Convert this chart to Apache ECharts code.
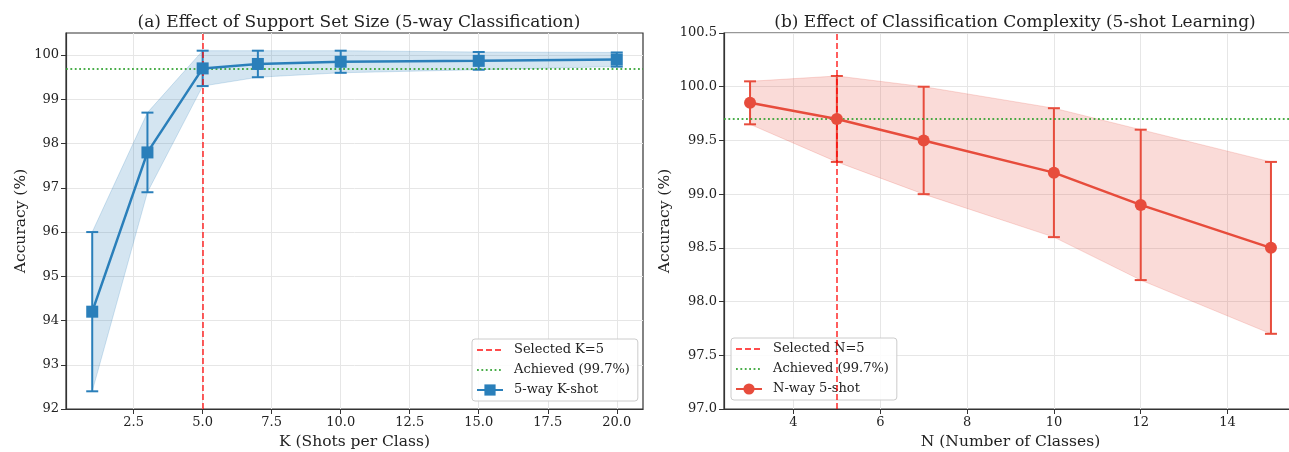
<!DOCTYPE html>
<html><head><meta charset="utf-8">
<script src="https://cdn.jsdelivr.net/npm/echarts@6/dist/echarts.min.js"></script>
<style>html,body{margin:0;padding:0;background:#fff}#c{width:1289px;height:452px}</style>
</head><body><div id="c"></div>
<script>
// ---- data ----
const kShots = [1, 3, 5, 7, 10, 15, 20];
const kAcc   = [94.2, 97.8, 99.7, 99.8, 99.85, 99.87, 99.9];
const kErr   = [1.8, 0.9, 0.4, 0.3, 0.25, 0.2, 0.16];
const nClasses = [3, 5, 7, 10, 12, 15];
const nAcc   = [99.85, 99.7, 99.5, 99.2, 98.9, 98.5];
const nErr   = [0.2, 0.4, 0.5, 0.6, 0.7, 0.8];
const achievedAcc = 99.7;
const selectedK = 5;
const selectedN = 5;
const kTickLabels = [2.5, 5, 7.5, 10, 12.5, 15, 17.5, 20];
const nTickLabels = [4, 6, 8, 10, 12, 14];
const kAccTicks = [92, 93, 94, 95, 96, 97, 98, 99, 100];
const nAccTicks = [97, 97.5, 98, 98.5, 99, 99.5, 100, 100.5];

const BLUE = '#2a7fba', RED = '#e74c3c';
const FONT = 'DejaVu Serif';
const TXT = '#222';

const kBand = kShots.map((k, i) => [k, kAcc[i] - kErr[i], kAcc[i] + kErr[i]]);
const nBand = nClasses.map((n, i) => [n, nAcc[i] - nErr[i], nAcc[i] + nErr[i]]);

function bandSeries(idx, band, fill, stroke) {
  return {
    type: 'custom', xAxisIndex: idx, yAxisIndex: idx, silent: true, z: 1,
    data: band, encode: { x: 0, y: [1, 2] },
    renderItem: function (params, api) {
      if (params.dataIndex !== 0) return null;
      const pts = [];
      band.forEach(r => pts.push(api.coord([r[0], r[2]])));
      for (let i = band.length - 1; i >= 0; i--) pts.push(api.coord([band[i][0], band[i][1]]));
      return { type: 'polygon', shape: { points: pts }, style: { fill: fill, stroke: stroke, lineWidth: 1 } };
    }
  };
}
function errSeries(idx, band, color) {
  return {
    type: 'custom', xAxisIndex: idx, yAxisIndex: idx, silent: true, z: 3,
    data: band, encode: { x: 0, y: [1, 2] },
    renderItem: function (params, api) {
      const x = api.value(0);
      const p1 = api.coord([x, api.value(2)]);
      const p2 = api.coord([x, api.value(1)]);
      const cw = 6;
      const st = { stroke: color, lineWidth: 2 };
      return { type: 'group', children: [
        { type: 'line', shape: { x1: p1[0], y1: p1[1], x2: p2[0], y2: p2[1] }, style: st },
        { type: 'line', shape: { x1: p1[0] - cw, y1: p1[1], x2: p1[0] + cw, y2: p1[1] }, style: st },
        { type: 'line', shape: { x1: p2[0] - cw, y1: p2[1], x2: p2[0] + cw, y2: p2[1] }, style: st }
      ]};
    }
  };
}
function vLine(idx, name, x) {
  const c = 'rgba(255,0,0,0.7)';
  return {
    type: 'line', name: name, xAxisIndex: idx, yAxisIndex: idx, data: [], symbol: 'none',
    color: c, lineStyle: { color: c, width: 1.8, type: [6, 3] }, z: 4,
    markLine: { silent: true, symbol: ['none', 'none'], label: { show: false },
      lineStyle: { color: c, width: 1.8, type: [6, 3] }, emphasis: { disabled: true },
      data: [{ xAxis: x }] }
  };
}
function hLine(idx, name, y) {
  const c = 'rgba(44,160,44,0.85)';
  return {
    type: 'line', name: name, xAxisIndex: idx, yAxisIndex: idx, data: [], symbol: 'none',
    color: c, lineStyle: { color: c, width: 1.8, type: [1.8, 2.6] }, z: 4,
    markLine: { silent: true, symbol: ['none', 'none'], label: { show: false },
      lineStyle: { color: c, width: 1.8, type: [1.8, 2.6] }, emphasis: { disabled: true },
      data: [{ yAxis: y }] }
  };
}
function xAxisCfg(idx, name, min, max, ticks, fmt) {
  return {
    type: 'value', gridIndex: idx, min: min, max: max,
    name: name, nameLocation: 'middle', nameGap: 25,
    nameTextStyle: { fontFamily: FONT, fontSize: 15.5, color: TXT },
    axisLine: { show: true, lineStyle: { color: '#333', width: 1.2 } },
    axisTick: { show: true, length: 5, customValues: ticks, lineStyle: { color: '#333' } },
    axisLabel: { customValues: ticks, formatter: fmt, fontFamily: FONT, fontSize: 13, color: TXT, margin: 7 },
    splitLine: { show: true, lineStyle: { color: '#e6e6e6', width: 1 } }
  };
}
function yAxisCfg(idx, name, min, max, ticks, fmt, gap) {
  return {
    type: 'value', gridIndex: idx, min: min, max: max,
    name: name, nameLocation: 'middle', nameGap: gap, nameRotate: 90,
    nameTextStyle: { fontFamily: FONT, fontSize: 15.5, color: TXT },
    axisLine: { show: true, lineStyle: { color: '#333', width: 1.2 } },
    axisTick: { show: true, length: 5, customValues: ticks, lineStyle: { color: '#333' } },
    axisLabel: { customValues: ticks, formatter: fmt, fontFamily: FONT, fontSize: 13, color: TXT, margin: 7 },
    splitLine: { show: true, lineStyle: { color: '#e6e6e6', width: 1 } }
  };
}
const hiddenSym = { color: 'rgba(0,0,0,0)', borderWidth: 0, opacity: 0 };
function legendCfg(left, top, names) {
  return {
    data: [
      { name: names[0], itemStyle: hiddenSym },
      { name: names[1], itemStyle: hiddenSym },
      { name: names[2] }
    ],
    orient: 'vertical', left: left, top: top,
    itemWidth: 26, itemHeight: 14, itemGap: 6, padding: [4, 8, 4, 4],
    backgroundColor: 'rgba(255,255,255,0.85)', borderColor: '#cccccc', borderWidth: 1, borderRadius: 3,
    textStyle: { fontFamily: FONT, fontSize: 13, color: TXT, lineHeight: 14, padding: [0, 0, 0, 6] },
    selectedMode: false
  };
}

const option = {
  backgroundColor: '#fff',
  animation: false,
  title: [
    { text: '(a) Effect of Support Set Size (5-way Classification)', left: 354, top: 9, textAlign: 'center',
      textStyle: { fontFamily: FONT, fontSize: 17, fontWeight: 'normal', color: TXT } },
    { text: '(b) Effect of Classification Complexity (5-shot Learning)', left: 1010, top: 9, textAlign: 'center',
      textStyle: { fontFamily: FONT, fontSize: 17, fontWeight: 'normal', color: TXT } }
  ],
  grid: [
    { left: 66, top: 33, width: 577, height: 376, show: true, borderColor: '#333', borderWidth: 1.2, outerBoundsMode: 'none', containLabel: false },
    { left: 724, top: 33, width: 573, height: 376, show: true, borderColor: '#333', borderWidth: 1.2, outerBoundsMode: 'none', containLabel: false }
  ],
  xAxis: [
    xAxisCfg(0, 'K (Shots per Class)', 0.05, 20.95, kTickLabels, v => v.toFixed(1)),
    xAxisCfg(1, 'N (Number of Classes)', 2.4, 15.6, nTickLabels, v => String(v))
  ],
  yAxis: [
    yAxisCfg(0, 'Accuracy (%)', 92, 100.5, kAccTicks, v => String(v), 37),
    yAxisCfg(1, 'Accuracy (%)', 97, 100.5, nAccTicks, v => v.toFixed(1), 51)
  ],
  legend: [
    legendCfg(472, 339, ['Selected K=5', 'Achieved (99.7%)', '5-way K-shot']),
    legendCfg(731, 338, ['Selected N=5', 'Achieved (99.7%)', 'N-way 5-shot'])
  ],
  series: [
    bandSeries(0, kBand, 'rgba(42,127,186,0.2)', 'rgba(42,127,186,0.2)'),
    errSeries(0, kBand, BLUE),
    vLine(0, 'Selected K=5', selectedK),
    hLine(0, 'Achieved (99.7%)', achievedAcc),
    { type: 'line', name: '5-way K-shot', xAxisIndex: 0, yAxisIndex: 0, z: 5,
      data: kShots.map((k, i) => [k, kAcc[i]]), symbol: 'rect', symbolSize: 12,
      color: BLUE, lineStyle: { color: BLUE, width: 2.5 }, itemStyle: { color: BLUE } },

    bandSeries(1, nBand, 'rgba(231,76,60,0.2)', 'rgba(231,76,60,0.2)'),
    errSeries(1, nBand, RED),
    vLine(1, 'Selected N=5', selectedN),
    hLine(1, 'Achieved (99.7%)', achievedAcc),
    { type: 'line', name: 'N-way 5-shot', xAxisIndex: 1, yAxisIndex: 1, z: 5,
      data: nClasses.map((n, i) => [n, nAcc[i]]), symbol: 'circle', symbolSize: 12,
      color: RED, lineStyle: { color: RED, width: 2.5 }, itemStyle: { color: RED } }
  ]
};
const chart = echarts.init(document.getElementById('c'), null, { renderer: 'canvas' });
chart.setOption(option);
</script>
</body></html>
